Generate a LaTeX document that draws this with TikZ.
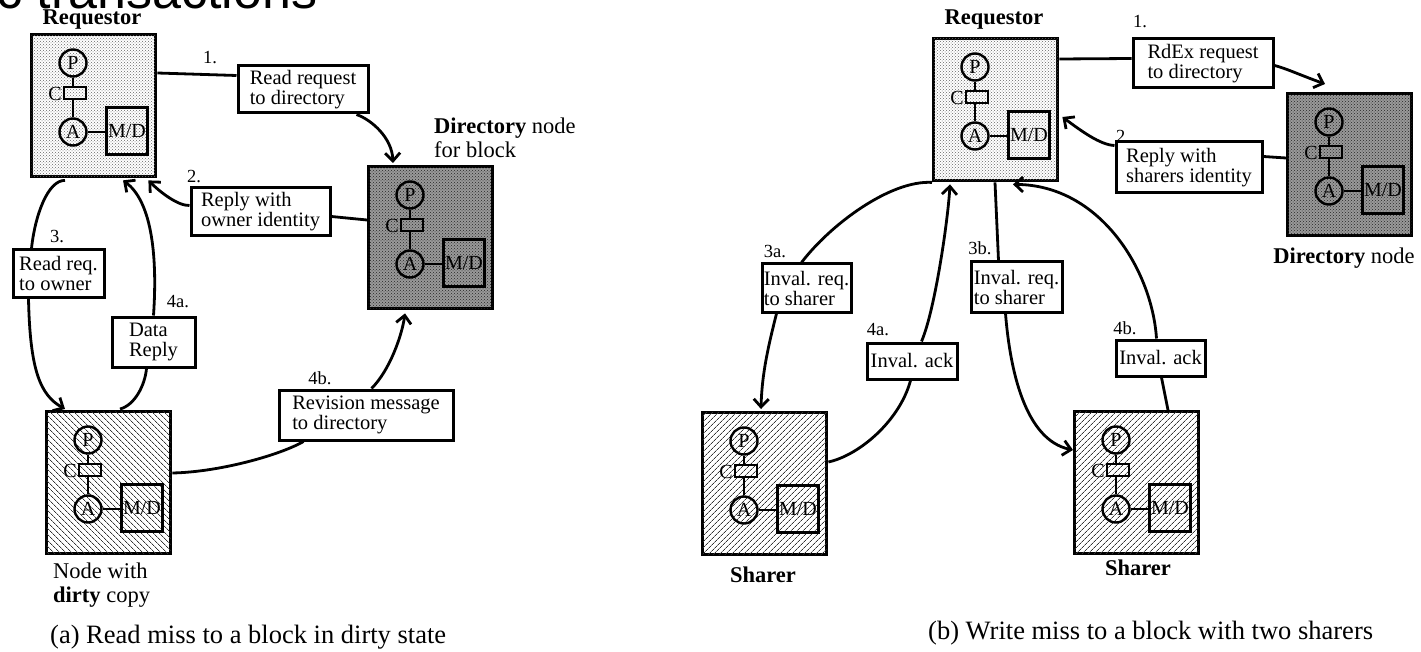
\documentclass[tikz,border=0pt]{standalone}
\usepackage{fontspec}
\setmainfont{Liberation Serif}
\newfontfamily\titlefont{Liberation Sans}
\usetikzlibrary{arrows.meta,patterns,patterns.meta,calc}
\tikzset{
  bigbox/.style={draw,line width=3.4pt,minimum width=124pt,minimum height=142pt,inner sep=0pt,anchor=north west},
  reqfill/.style={fill=white,postaction={pattern=crosshatch dots,pattern color=black!60}},
  dirfill/.style={fill=black!40,postaction={pattern=crosshatch dots,pattern color=black!85}},
  dirtyfill/.style={fill=white,postaction={pattern={Lines[angle=-45,distance=4pt,line width=0.7pt]},pattern color=black!80}},
  sharefill/.style={fill=white,postaction={pattern={Lines[angle=45,distance=4pt,line width=0.7pt]},pattern color=black!80}},
  circ/.style={circle,draw,line width=2.4pt,minimum size=27pt,inner sep=0pt,font=\fontsize{20}{20}\selectfont},
  cache/.style={rectangle,draw,line width=2.4pt,minimum width=22pt,minimum height=12pt,inner sep=0pt},
  mem/.style={rectangle,draw,line width=2.4pt,minimum width=41pt,minimum height=47pt,inner sep=0pt},
  intext/.style={font=\fontsize{20}{20}\selectfont,inner sep=0pt},
  lbl/.style={draw,fill=white,line width=3pt,inner sep=0pt,align=left,font=\fontsize{20.5}{20}\selectfont},
  stepnum/.style={inner sep=0pt,font=\fontsize{18.5}{18}\selectfont},
  conn/.style={line width=2.8pt},
  arr/.style={conn,-{Straight Barb[length=8pt,width=15pt]}},
  nodecap/.style={inner sep=0pt,font=\fontsize{22.5}{24}\selectfont,align=left},
  boldcap/.style={inner sep=0pt,font=\bfseries\fontsize{22.5}{24}\selectfont},
  figcap/.style={inner sep=0pt,font=\fontsize{26.5}{26}\selectfont,anchor=west},
}
\newcommand\procnode[4]{%
  \node[bigbox,#4] (#1) at (#2,#3) {};
  \node[circ] (#1P) at ($(#1.north west)+(43,30)$) {P};
  \node[cache] (#1C) at ($(#1.north west)+(45,60)$) {};
  \node[intext,anchor=east] (#1Cl) at ($(#1C.west)+(-1,1)$) {C};
  \node[circ] (#1A) at ($(#1.north west)+(43,99)$) {\raisebox{-5pt}{A}};
  \node[mem] (#1M) at ($(#1.north west)+(97,98)$) {};
  \node[intext] (#1Ml) at (#1M) {M/D};
  \draw[line width=2.4pt] (#1P.south) -- (#1P.south |- #1C.north);
  \draw[line width=2.4pt] (#1P.south |- #1C.south) -- (#1A.north);
  \draw[line width=2.4pt] (#1A.east) -- (#1A.east -| #1M.west);
}
\begin{document}
\begin{tikzpicture}[x=1pt,y=-1pt]
\useasboundingbox (0,0) rectangle (1421,652);
\begin{scope}
\clip (0,0) rectangle (420,40);
\node[anchor=base west,inner sep=0pt,font=\titlefont\fontsize{52}{52}\selectfont] (title) at (-105,9) {Basic transactions};
\end{scope}

% ---------- (a) ----------
\procnode{reqA}{30}{33}{reqfill}
\procnode{dirA}{367}{165}{dirfill}
\procnode{dirtyA}{45}{410}{dirtyfill}

\node[boldcap] (reqAcap) at (92,20) {Requestor};
\node[nodecap,anchor=west] (dirAcap) at (434,138) {\textbf{Directory} node\\for block};
\node[nodecap,anchor=west] (dirtyAcap) at (53,585) {Node with\\\textbf{dirty} copy};
\node[figcap] (capA) at (50,637) {(a) Read miss to a block in dirty state};

\node[lbl,minimum width=130pt,minimum height=47pt] (rr) at (303,89.5) {Read request\\to directory};
\node[lbl,minimum width=139pt,minimum height=48pt] (ro) at (260.5,212) {Reply with\\owner identity};
\node[lbl,minimum width=91pt,minimum height=47pt] (rq) at (58.5,273.5) {Read req.\\to owner};
\node[lbl,minimum width=83pt,minimum height=50pt] (dr) at (153.5,342) {Data\\Reply};
\node[lbl,minimum width=174pt,minimum height=50pt] (rm) at (366,415) {Revision message\\to directory};

\node[stepnum] (sa1) at (210,58) {1.};
\node[stepnum] (sa2) at (194,177) {2.};
\node[stepnum] (sa3) at (57,237) {3.};
\node[stepnum] (sa4a) at (178,302) {4a.};
\node[stepnum] (sa4b) at (320,378) {4b.};

\draw[conn] ($(reqA.north east)+(0,40)$) -- ($(rr.north west)+(0,11)$);
\draw[arr] ($(rr.south east)+(-13,0)$) .. controls (372,120) and (392,138) .. ($(dirA.north west)+(26,-2)$);
\draw[conn] ($(dirA.north west)+(0,55)$) -- ($(ro.north east)+(0,30)$);
\draw[arr] ($(ro.north west)+(0,19)$) .. controls (178,206) and (160,192) .. ($(reqA.south east)+(-9,2)$);
\draw[conn] ($(reqA.south west)+(35,2)$) .. controls (48,180) and (35,215) .. ($(rq.north west)+(20,0)$);
\draw[arr] ($(rq.south west)+(17,0)$) .. controls (30,370) and (40,395) .. ($(dirtyA.north west)+(20,-1)$);
\draw[conn] ($(dirtyA.north west)+(75,-1)$) .. controls (135,405) and (145,385) .. ($(dr.south west)+(36,0)$);
\draw[arr] ($(dr.north west)+(43,0)$) .. controls (158,250) and (150,200) .. ($(reqA.south west)+(93,2)$);
\draw[conn] ($(dirtyA.north east)+(0,63)$) .. controls (220,472) and (280,455) .. ($(rm.south west)+(26,0)$);
\draw[arr] ($(rm.north west)+(94,0)$) .. controls (390,370) and (402,335) .. ($(dirA.south west)+(38,3)$);

% ---------- (b) ----------
\procnode{reqB}{932}{37}{reqfill}
\procnode{dirB}{1286}{92}{dirfill}
\procnode{shA}{701}{411}{sharefill}
\procnode{shB}{1073}{410}{sharefill}

\node[boldcap] (reqBcap) at (994,20) {Requestor};
\node[nodecap] (dirBcap) at (1344,258) {\textbf{Directory} node};
\node[boldcap] (shAcap) at (763,575) {Sharer};
\node[boldcap] (shBcap) at (1138,568) {Sharer};
\node[figcap] (capB) at (928,633) {(b) Write miss to a block with two sharers};

\node[lbl,minimum width=140pt,minimum height=49pt] (rd) at (1203,63.5) {RdEx request\\to directory};
\node[lbl,minimum width=146pt,minimum height=51pt] (rs) at (1189,167.5) {Reply with\\sharers identity};
\node[lbl,minimum width=89pt,minimum height=48pt] (ia) at (806.5,288) {Inval. req.\\to sharer};
\node[lbl,minimum width=91pt,minimum height=50pt] (ib) at (1016.5,287) {Inval. req.\\to sharer};
\node[lbl,minimum width=90pt,minimum height=36pt] (aa) at (912,361) {Inval. ack};
\node[lbl,minimum width=89pt,minimum height=36pt] (ab) at (1160.5,358) {Inval. ack};

\node[stepnum] (sb1) at (1140,22) {1.};
\node[stepnum] (sb2) at (1123,137) {2.};
\node[stepnum] (sb3a) at (775,252) {3a.};
\node[stepnum] (sb4a) at (878,330) {4a.};
\node[stepnum] (sb3b) at (980,248) {3b.};
\node[stepnum] (sb4b) at (1125,328) {4b.};

\draw[conn] ($(reqB.north east)+(0,22)$) -- ($(rd.north west)+(0,21)$);
\draw[arr] ($(rd.north east)+(0,28)$) .. controls (1285,68) and (1300,75) .. ($(dirB.north west)+(39,-8)$);
\draw[conn] ($(dirB.north west)+(0,66)$) -- ($(rs.north east)+(0,16)$);
\draw[arr] ($(rs.north west)+(0,5)$) .. controls (1100,145) and (1080,130) .. ($(reqB.north east)+(3,80)$);
\draw[conn] (reqB.south west) .. controls (890,180) and (830,225) .. ($(ia.north west)+(41,0)$);
\draw[arr] ($(ia.south west)+(16,0)$) .. controls (770,340) and (762,370) .. ($(shA.north west)+(60,-2)$);
\draw[conn] ($(shA.north east)+(0,51)$) .. controls (860,455) and (900,420) .. ($(aa.south west)+(45,0)$);
\draw[arr] ($(aa.north west)+(56,0)$) .. controls (935,310) and (948,220) .. ($(reqB.south west)+(18,2)$);
\draw[conn] ($(reqB.south west)+(63,0)$) -- ($(ib.north west)+(29,0)$);
\draw[arr] ($(ib.south west)+(36,0)$) .. controls (1010,370) and (1025,440) .. ($(shB.north west)+(0,40)$);
\draw[conn] ($(shB.north west)+(95,0)$) -- ($(ab.south west)+(47,0)$);
\draw[arr] ($(ab.north west)+(42,0)$) .. controls (1152,270) and (1100,185) .. ($(reqB.south west)+(81,2)$);
\end{tikzpicture}
\end{document}
